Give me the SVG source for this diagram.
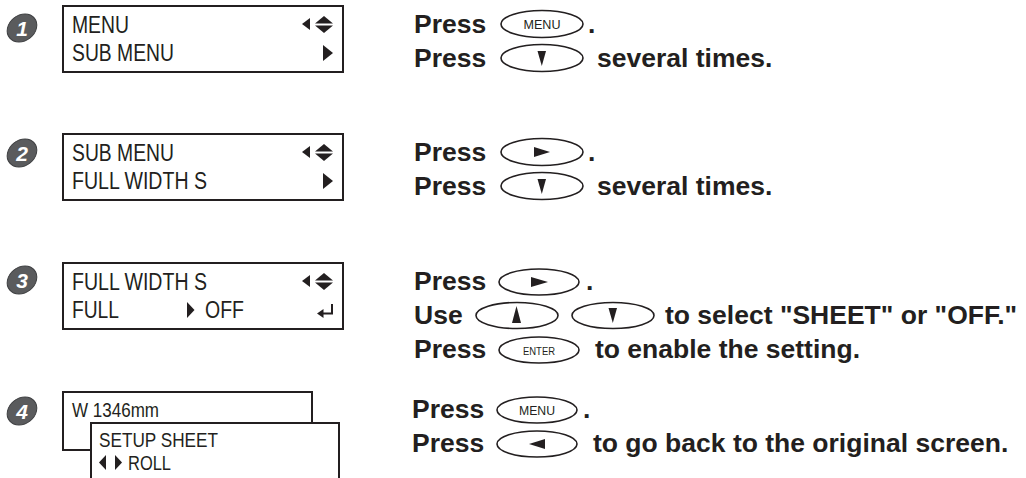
<svg xmlns="http://www.w3.org/2000/svg" width="1026" height="478" viewBox="0 0 1026 478">
<style>
.bg{fill:#ffffff}
.lcd{fill:#ffffff;stroke:#231f20;stroke-width:2}
.lt{font-family:"Liberation Sans",Arial,sans-serif;font-size:23px;fill:#231f20}
.lt4{font-family:"Liberation Sans",Arial,sans-serif;font-size:21px;fill:#231f20}
.ico{fill:#231f20}
.t{font-family:"Liberation Sans",Arial,sans-serif;font-size:26.5px;font-weight:bold;fill:#231f20}
.key{fill:#ffffff;stroke:#231f20;stroke-width:1.6}
.kt{font-family:"Liberation Sans",Arial,sans-serif;font-size:13px;fill:#231f20;text-anchor:middle}
.num{fill:#5a5b5d;stroke:#3f4042;stroke-width:1}
.nt{font-family:"Liberation Sans",Arial,sans-serif;font-size:21px;font-weight:bold;font-style:italic;fill:#ffffff;text-anchor:middle}
</style>
<rect class="bg" x="0" y="0" width="1026" height="478"/>

<g id="step1">
  <g transform="translate(22,28) skewX(-12)"><ellipse class="num" cx="0" cy="0" rx="14.5" ry="14"/></g>
  <text class="nt" x="22" y="35.5">1</text>
  <rect class="lcd" x="63" y="6" width="280" height="66"/>
  <text class="lt" x="72" y="33" textLength="57" lengthAdjust="spacingAndGlyphs">MENU</text>
  <text class="lt" x="72" y="61" textLength="102" lengthAdjust="spacingAndGlyphs">SUB MENU</text>
  <polygon class="ico" points="310,18 302,24 310,30"/>
  <polygon class="ico" points="315,23.5 324,16 333,23.5"/>
  <polygon class="ico" points="315,25.5 333,25.5 324,33"/>
  <polygon class="ico" points="323,45 333,53 323,61"/>
</g>

<g id="step2">
  <g transform="translate(22,153) skewX(-12)"><ellipse class="num" cx="0" cy="0" rx="14.5" ry="14"/></g>
  <text class="nt" x="22" y="160.5">2</text>
  <rect class="lcd" x="63" y="134" width="280" height="66"/>
  <text class="lt" x="72" y="161" textLength="102" lengthAdjust="spacingAndGlyphs">SUB MENU</text>
  <text class="lt" x="72" y="189" textLength="135" lengthAdjust="spacingAndGlyphs">FULL WIDTH S</text>
  <polygon class="ico" points="310,146 302,152 310,158"/>
  <polygon class="ico" points="315,151.5 324,144 333,151.5"/>
  <polygon class="ico" points="315,153.5 333,153.5 324,161"/>
  <polygon class="ico" points="323,173 333,181 323,189"/>
</g>

<g id="step3">
  <g transform="translate(22,280) skewX(-12)"><ellipse class="num" cx="0" cy="0" rx="14.5" ry="14"/></g>
  <text class="nt" x="22" y="287.5">3</text>
  <rect class="lcd" x="63" y="263" width="280" height="66"/>
  <text class="lt" x="72" y="290" textLength="135" lengthAdjust="spacingAndGlyphs">FULL WIDTH S</text>
  <text class="lt" x="72" y="318" textLength="47" lengthAdjust="spacingAndGlyphs">FULL</text>
  <text class="lt" x="205" y="318" textLength="39" lengthAdjust="spacingAndGlyphs">OFF</text>
  <polygon class="ico" points="310,275 302,281 310,287"/>
  <polygon class="ico" points="315,280.5 324,273 333,280.5"/>
  <polygon class="ico" points="315,282.5 333,282.5 324,290"/>
  <polygon class="ico" points="187,302 194.5,310 187,318"/>
  <path d="M332,304 V313.5 H322" fill="none" stroke="#231f20" stroke-width="2"/>
  <polygon class="ico" points="317,313.5 323.5,309 323.5,318"/>
</g>

<g id="step4">
  <g transform="translate(22,411) skewX(-12)"><ellipse class="num" cx="0" cy="0" rx="14.5" ry="14"/></g>
  <text class="nt" x="22" y="418.5">4</text>
  <rect class="lcd" x="63" y="392" width="249" height="58"/>
  <text class="lt4" x="72" y="417" textLength="87" lengthAdjust="spacingAndGlyphs">W 1346mm</text>
  <rect class="lcd" x="91" y="423" width="248" height="80"/>
  <text class="lt4" x="99" y="447" textLength="119" lengthAdjust="spacingAndGlyphs">SETUP SHEET</text>
  <polygon class="ico" points="106,455 99,462.5 106,470"/>
  <polygon class="ico" points="115,455 122,462.5 115,470"/>
  <text class="lt4" x="128" y="470" textLength="43" lengthAdjust="spacingAndGlyphs">ROLL</text>
</g>

<g id="instr1">
  <text class="t" x="414" y="33">Press</text>
  <ellipse class="key" cx="542" cy="24" rx="41" ry="13.5"/>
  <text class="kt" x="542" y="29" textLength="37" lengthAdjust="spacingAndGlyphs">MENU</text>
  <text class="t" x="588" y="33">.</text>
  <text class="t" x="414" y="67">Press</text>
  <ellipse class="key" cx="542" cy="58" rx="41" ry="13.5"/>
  <polygon class="ico" points="537.5,51 546,51 541.8,66"/>
  <text class="t" x="597" y="67">several times.</text>
</g>

<g id="instr2">
  <text class="t" x="414" y="161">Press</text>
  <ellipse class="key" cx="542" cy="152" rx="41" ry="13.5"/>
  <polygon class="ico" points="534,147 550,152 534,157"/>
  <text class="t" x="588" y="161">.</text>
  <text class="t" x="414" y="195">Press</text>
  <ellipse class="key" cx="542" cy="186" rx="41" ry="13.5"/>
  <polygon class="ico" points="537.5,179 546,179 541.8,194"/>
  <text class="t" x="597" y="195">several times.</text>
</g>

<g id="instr3">
  <text class="t" x="414" y="290">Press</text>
  <ellipse class="key" cx="539" cy="282" rx="40" ry="13"/>
  <polygon class="ico" points="531,277 548,282 531,287"/>
  <text class="t" x="586" y="290">.</text>
  <text class="t" x="414" y="324">Use</text>
  <ellipse class="key" cx="517" cy="315.5" rx="41" ry="13"/>
  <polygon class="ico" points="512,323 521,323 516.5,306"/>
  <ellipse class="key" cx="613" cy="315.5" rx="41" ry="13"/>
  <polygon class="ico" points="608.5,308 617,308 612.8,323"/>
  <text class="t" x="665" y="324">to select "SHEET" or "OFF."</text>
  <text class="t" x="414" y="358">Press</text>
  <ellipse class="key" cx="539" cy="350" rx="40" ry="13"/>
  <text class="kt" x="539" y="354.5" style="font-size:11px" textLength="32" lengthAdjust="spacingAndGlyphs">ENTER</text>
  <text class="t" x="595" y="358">to enable the setting.</text>
</g>

<g id="instr4">
  <text class="t" x="412" y="418">Press</text>
  <ellipse class="key" cx="537" cy="410" rx="40" ry="13"/>
  <text class="kt" x="537" y="415" textLength="36" lengthAdjust="spacingAndGlyphs">MENU</text>
  <text class="t" x="583" y="418">.</text>
  <text class="t" x="412" y="452">Press</text>
  <ellipse class="key" cx="537" cy="444" rx="40" ry="13"/>
  <polygon class="ico" points="545,439 529,444 545,449"/>
  <text class="t" x="593" y="452">to go back to the original screen.</text>
</g>

<g id="connectors"></g>
</svg>
